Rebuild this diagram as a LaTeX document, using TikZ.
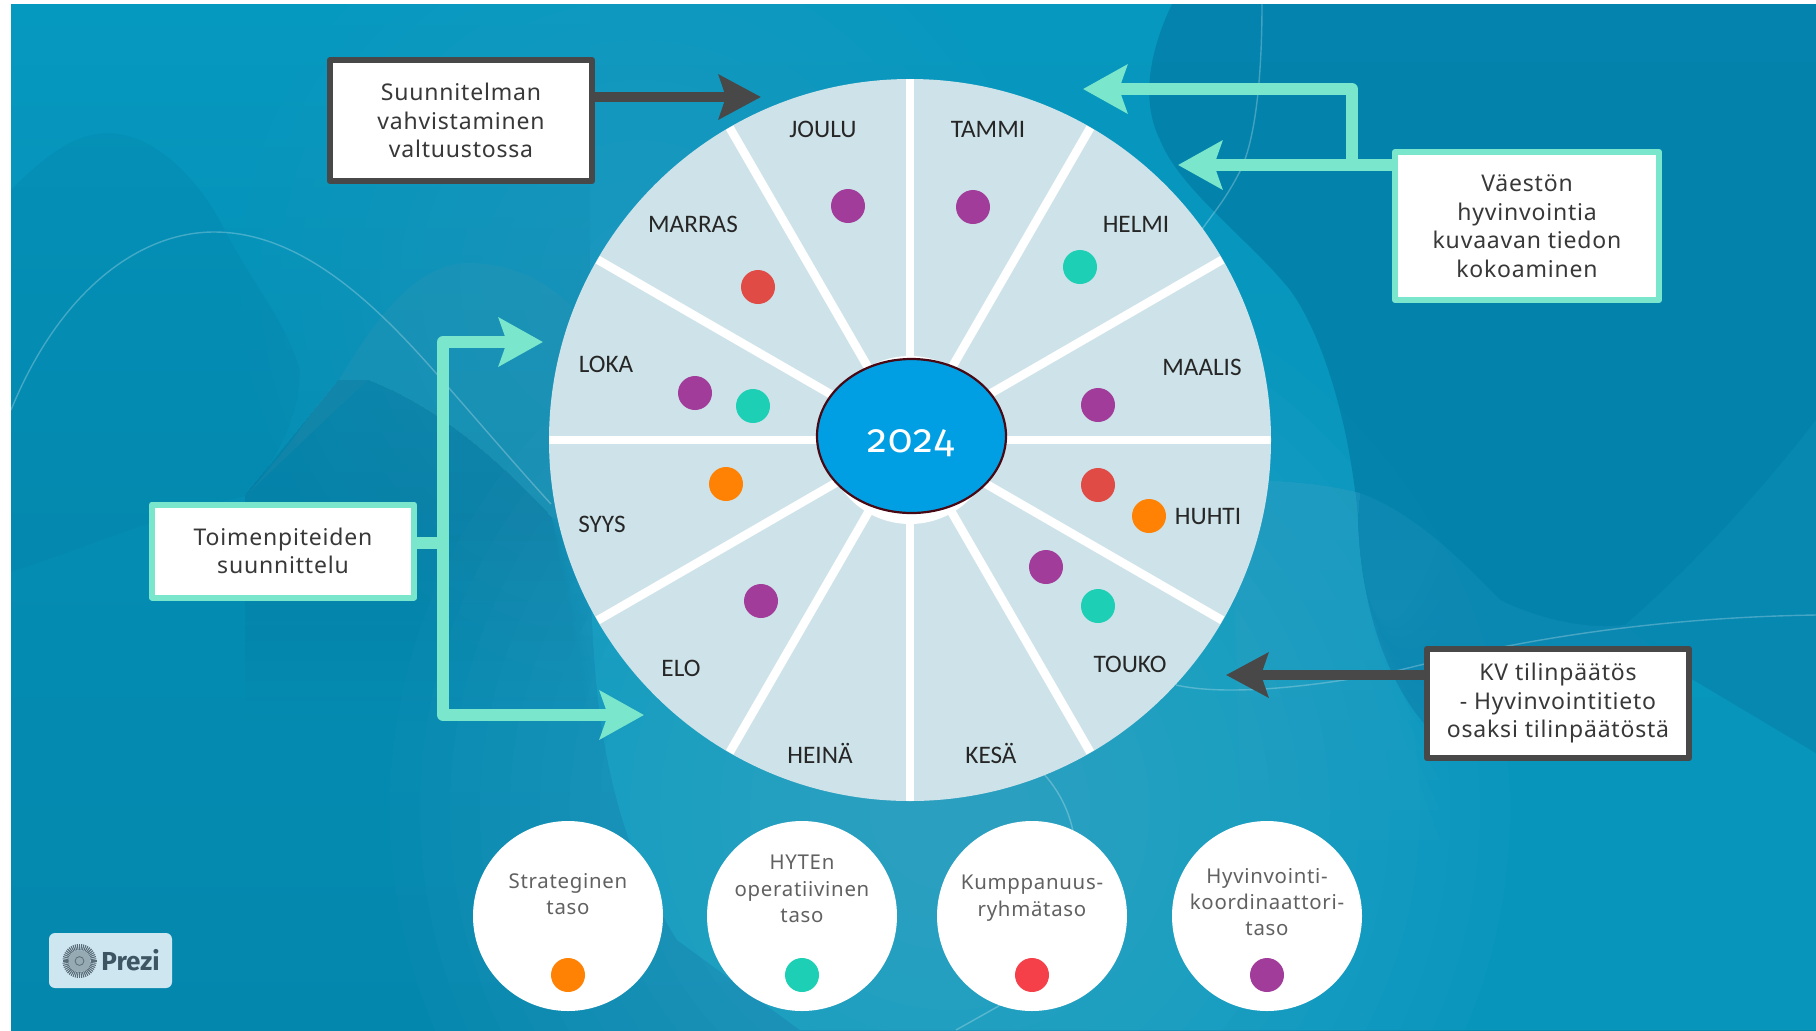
\documentclass[tikz,border=0pt]{standalone}
\usepackage{fontspec}
\usetikzlibrary{arrows.meta,shapes.geometric,calc}
\setmainfont{Carlito}
\newfontfamily\boxfont[LetterSpace=3.5]{Noto Sans}
\newfontfamily\prezifont{Fira Sans}
\newfontfamily\yearfont[Numbers=OldStyle,LetterSpace=3]{Fira Sans}
\definecolor{mint}{HTML}{7AE6CB}
\definecolor{slate}{HTML}{484848}
\definecolor{wheelc}{HTML}{CEE3E9}
\definecolor{dotp}{HTML}{A23C9B}
\definecolor{dott}{HTML}{1DCFB5}
\definecolor{dotr}{HTML}{E04B45}
\definecolor{doto}{HTML}{FF8205}
\definecolor{dotrb}{HTML}{F5404A}
\definecolor{bgtop}{RGB}{6,153,192}
\definecolor{bgbot}{RGB}{4,135,173}
\definecolor{bgmid}{RGB}{8,152,191}
\definecolor{humpa}{RGB}{4,125,165}
\definecolor{humpb}{RGB}{45,150,180}
\definecolor{humpc}{RGB}{18,125,165}
\definecolor{rblob}{RGB}{3,128,170}
\definecolor{shelf}{RGB}{70,180,215}
\definecolor{rlight}{RGB}{12,148,188}
\definecolor{glow}{RGB}{120,195,228}
\definecolor{yearfill}{RGB}{0,159,227}
\definecolor{yearline}{RGB}{72,8,20}
\definecolor{badge}{RGB}{205,230,239}
\definecolor{logod}{RGB}{90,108,120}
\definecolor{logom}{RGB}{150,170,180}
\definecolor{prezic}{RGB}{62,85,99}
\tikzset{
  x=0.5pt,y=-0.5pt,
  infobox/.style={draw,fill=white,line width=3pt,line join=round,rectangle,inner sep=0pt},
  mintbox/.style={infobox,draw=mint},
  slatebox/.style={infobox,draw=slate},
  boxtext/.style={align=center,text=black!78,font=\boxfont\fontsize{11.5}{14.25}\selectfont},
  lvltext/.style={align=center,text=black!62,font=\boxfont\fontsize{10.2}{13.2}\selectfont},
  month/.style={text=black!85,font=\fontsize{12.6}{14}\selectfont},
  dotmark/.style={circle,draw=none,minimum size=17pt,inner sep=0pt},
  lvlcirc/.style={circle,fill=white,draw=none,minimum size=95pt,inner sep=0pt},
  mintarrow/.style={draw=mint,line width=5.8pt,line join=round,-{Stealth[length=22pt,width=24pt,inset=4pt,fill=mint]}},
  slatearrow/.style={draw=slate,line width=4.8pt,-{Stealth[length=21pt,width=22pt,inset=3.5pt,fill=slate]}},
  hair/.style={draw=white,draw opacity=.25,line width=.7pt},
}
\begin{document}
\begin{tikzpicture}
\useasboundingbox (0,0) rectangle (1816,1030);
\fill[white] (0,0) rectangle (1816,1030);
\begin{scope}
\clip (11,4) rectangle (1816,1030);
% base
\shade[top color=bgtop,bottom color=bgbot,middle color=bgbot!70!bgtop] (11,4) rectangle (1816,1030);
% brighter middle and lower right
\fill[bgmid,opacity=.85] (590,4) -- (590,480) .. controls (590,650) and (590,800) .. (677,940) -- (800,1030) -- (1816,1030) -- (1816,4) -- cycle;
% glows
\foreach \r in {560,530,...,80}{\fill[glow,opacity=.028] (950,810) circle[radius=\r];}
\foreach \r in {400,380,...,60}{\fill[glow,opacity=.012] (640,280) circle[radius=\r];}
% left humps
\fill[humpa,opacity=.22] (11,190) .. controls (50,150) and (80,133) .. (107,133) .. controls (160,133) and (205,190) .. (223,227) .. controls (250,280) and (285,320) .. (300,370) .. controls (300,420) and (270,470) .. (245,496) .. controls (160,515) and (80,550) .. (11,572) -- cycle;
\fill[humpb,opacity=.3] (245,496) .. controls (290,450) and (310,410) .. (339,380) .. controls (380,310) and (420,263) .. (469,263) .. controls (510,263) and (545,280) .. (571,306) -- (600,540) -- (551,517) .. controls (480,440) and (420,400) .. (367,380) -- cycle;
\foreach \yy in {520,540,...,720}{\fill[humpc,opacity=.03] (245,496) -- (339,380) -- (367,380) .. controls (420,400) and (480,440) .. (551,517) -- (590,\yy) -- (245,\yy) -- cycle;}
% right blob
\fill[rblob,opacity=.85] (1172,4) .. controls (1150,50) and (1140,100) .. (1160,140) .. controls (1180,190) and (1250,240) .. (1290,290) .. controls (1320,330) and (1350,420) .. (1358,520) .. controls (1360,600) and (1385,690) .. (1440,740) -- (1560,755) -- (1692,679) -- (1816,753) -- (1816,4) -- cycle;
% shelf left of x=1358, fading downwards
\foreach \yy in {540,570,...,840}{\fill[shelf,opacity=.04] (1230,480) .. controls (1290,480) and (1330,485) .. (1360,493) -- (1358,520) .. controls (1360,600) and (1385,690) .. (1440,\yy) -- (1240,\yy) -- cycle;}
% medium band under the curve
\fill[shelf,opacity=.12] (1360,493) .. controls (1420,515) and (1470,570) .. (1500,600) .. controls (1540,620) and (1590,630) .. (1625,625) -- (1692,679) -- (1560,755) -- (1440,740) .. controls (1385,690) and (1360,600) .. (1358,520) -- cycle;
\fill[rlight,opacity=.35] (1625,625) .. controls (1700,560) and (1770,480) .. (1816,420) -- (1816,753) -- (1692,679) -- cycle;
% thin lines
\draw[hair] (11,410) .. controls (60,290) and (140,232) .. (214,232) .. controls (310,232) and (390,320) .. (449,388) .. controls (490,435) and (520,470) .. (551,504);
\draw[hair] (1262,4) .. controls (1262,60) and (1258,140) .. (1238,175) .. controls (1225,200) and (1212,215) .. (1200,232);
\draw[hair] (1176,685) .. controls (1220,695) and (1300,690) .. (1400,670) .. controls (1480,650) and (1620,618) .. (1816,615);
\draw[hair] (1040,770) .. controls (1060,790) and (1076,820) .. (1076,860) .. controls (1076,930) and (1030,985) .. (997,1007) -- (956,1030);
\end{scope}
% wheel
\coordinate (hub) at (910,440);
\node[circle,fill=wheelc,draw=none,minimum size=361pt,inner sep=0pt] (wheel) at (hub) {};
\foreach \a in {0,30,...,330}{\draw[white,line width=4.3pt] (hub) -- ++(\a:180.3pt);}
\node[circle,fill=white,draw=none,minimum size=84pt,inner sep=0pt] (hubwhite) at (hub) {};
\node[ellipse,fill=yearfill,draw=yearline,line width=1.1pt,minimum width=94.5pt,minimum height=77pt,inner sep=0pt] (year) at (911.5,436) {};
\node[text=white,font=\yearfont\fontsize{20}{22}\selectfont] (yeart) at (911,443) {2024};
% months
\node[month] (mjoulu) at (823,129.5) {JOULU};
\node[month] (mtammi) at (988,129.5) {TAMMI};
\node[month] (mmarras) at (693,224.5) {MARRAS};
\node[month] (mhelmi) at (1136,224.5) {HELMI};
\node[month] (mloka) at (606,364.5) {LOKA};
\node[month] (mmaalis) at (1202,367.5) {MAALIS};
\node[month] (msyys) at (602,524) {SYYS};
\node[month] (mhuhti) at (1208,516.5) {HUHTI};
\node[month] (melo) at (681,668) {ELO};
\node[month] (mtouko) at (1130,664) {TOUKO};
\node[month] (mheina) at (820,753) {HEINÄ};
\node[month] (mkesa) at (991,753) {KESÄ};
% dots
\node[dotmark,fill=dotp] (d1) at (848,206) {};
\node[dotmark,fill=dotp] (d2) at (973,207) {};
\node[dotmark,fill=dott] (d3) at (1080,267) {};
\node[dotmark,fill=dotr] (d4) at (758,287) {};
\node[dotmark,fill=dotp] (d5) at (1098,405) {};
\node[dotmark,fill=dotp] (d6) at (695,393) {};
\node[dotmark,fill=dott] (d7) at (753,406) {};
\node[dotmark,fill=doto] (d8) at (726,484) {};
\node[dotmark,fill=dotr] (d9) at (1098,485) {};
\node[dotmark,fill=doto] (d10) at (1149,516) {};
\node[dotmark,fill=dotp] (d11) at (1046,567) {};
\node[dotmark,fill=dott] (d12) at (1098,606) {};
\node[dotmark,fill=dotp] (d13) at (761,601) {};
% boxes
\node[slatebox,minimum width=131pt,minimum height=60.5pt] (b1) at (461,120.5) {};
\node[boxtext] (b1t) at (b1) {Suunnitelman\\vahvistaminen\\valtuustossa};
\node[mintbox,minimum width=132pt,minimum height=74pt] (b2) at (1527,226) {};
\node[boxtext] (b2t) at (b2) {Väestön\\hyvinvointia\\kuvaavan tiedon\\kokoaminen};
\node[mintbox,minimum width=131pt,minimum height=46.5pt] (b3) at (283,551) {};
\node[boxtext] (b3t) at (b3) {Toimenpiteiden\\suunnittelu};
\node[slatebox,minimum width=131pt,minimum height=54.5pt] (b4) at (1558,703.5) {};
\node[boxtext] (b4t) at (b4) {KV tilinpäätös\\- Hyvinvointitieto\\osaksi tilinpäätöstä};
% arrow ends
\coordinate (t1) at (761,97);
\coordinate (t2a) at (1083,89);
\coordinate (t2b) at (1178,165);
\coordinate (j2) at (1352,165);
\coordinate (j3) at (443,543);
\coordinate (t3a) at (543,342);
\coordinate (t3b) at (644,715);
\coordinate (t4) at (1226,675);
\draw[slatearrow] (b1.east |- t1) -- (t1);
\draw[mintarrow] (b2.west |- t2b) -- (t2b);
\draw[mintarrow] (j2) |- (t2a);
\draw[draw=mint,line width=5.8pt] (b3.east |- j3) -- (j3);
\draw[mintarrow] (j3) |- (t3a);
\draw[mintarrow] (j3) |- (t3b);
\draw[slatearrow] (b4.west |- t4) -- (t4);
% level circles
\node[lvlcirc] (c1) at (568,916) {};
\node[lvlcirc] (c2) at (802,916) {};
\node[lvlcirc] (c3) at (1032,916) {};
\node[lvlcirc] (c4) at (1267,916) {};
\node[lvltext] (c1t) at (568,894) {Strateginen\\taso};
\node[lvltext] (c2t) at (802,889) {HYTEn\\operatiivinen\\taso};
\node[lvltext] (c3t) at (1032,898) {Kumppanuus-\\ryhmätaso};
\node[lvltext] (c4t) at (1267,902) {Hyvinvointi-\\koordinaattori-\\taso};
\node[dotmark,fill=doto] (c1d) at (568,975) {};
\node[dotmark,fill=dott] (c2d) at (802,975) {};
\node[dotmark,fill=dotrb] (c3d) at (1032,975) {};
\node[dotmark,fill=dotp] (c4d) at (1267,975) {};
% badge
\fill[badge,rounded corners=3pt] (49,933) rectangle (172,988);
\foreach \a in {0,7.5,...,352.5}{\draw[logod,line width=.55pt] (79.5,961) ++(\a:5.5pt) -- ++(\a:3pt);}
\fill[logom] (79.5,961) circle[radius=5.5pt];
\draw[logod,line width=.4pt] (79.5,961) circle[radius=2.2pt];
\node[text=prezic,font=\prezifont\bfseries\fontsize{13}{14}\selectfont,inner sep=0pt] (prezi) at (130.5,960) {Prezi};
\end{tikzpicture}
\end{document}
